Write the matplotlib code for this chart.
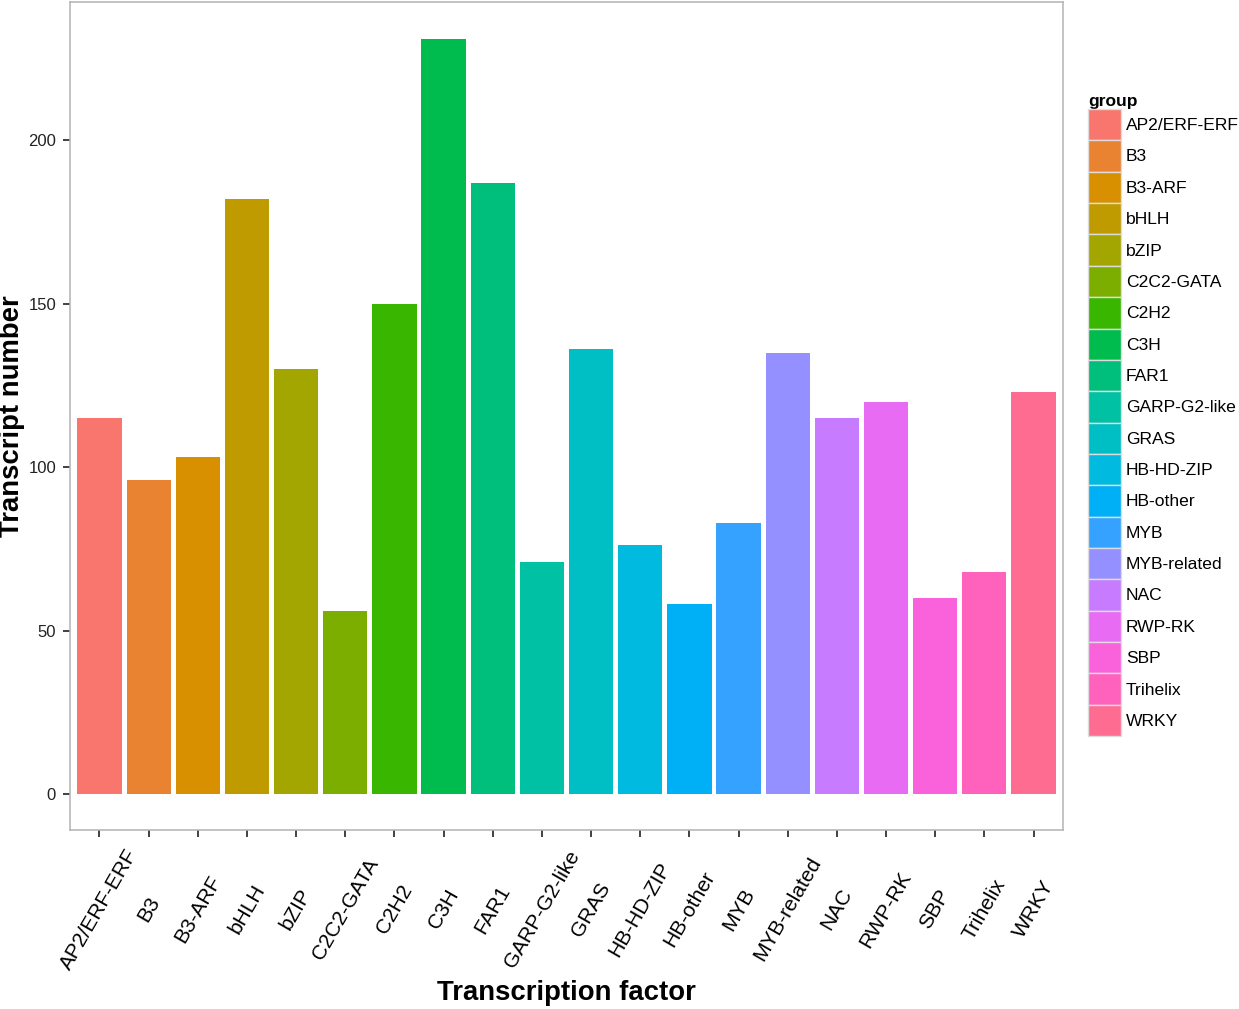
import matplotlib.pyplot as plt
from matplotlib.patches import Patch

# transcription factor families and counts
factors = ["AP2/ERF-ERF", "B3", "B3-ARF", "bHLH", "bZIP", "C2C2-GATA", "C2H2",
           "C3H", "FAR1", "GARP-G2-like", "GRAS", "HB-HD-ZIP", "HB-other", "MYB",
           "MYB-related", "NAC", "RWP-RK", "SBP", "Trihelix", "WRKY"]
counts = [115, 96, 103, 182, 130, 56, 150, 231, 187, 71,
          136, 76, 58, 83, 135, 115, 120, 60, 68, 123]
y_ticks = [0, 50, 100, 150, 200]

# ggplot default hue palette for 20 levels
colors = ["#F8766D", "#EA8331", "#D89000", "#C09B00", "#A3A500", "#7CAE00",
          "#39B600", "#00BB4E", "#00BF7D", "#00C1A3", "#00BFC4", "#00BAE0",
          "#00B0F6", "#35A2FF", "#9590FF", "#C77CFF", "#E76BF3", "#FA62DB",
          "#FF62BC", "#FF6C91"]

plt.rcParams['font.family'] = ['Liberation Sans', 'DejaVu Sans']

fig = plt.figure(figsize=(12.39, 10.09), dpi=100)
ax = fig.add_axes([70 / 1239, 1 - 830 / 1009, 993 / 1239, 828 / 1009])

x = list(range(1, len(factors) + 1))
ax.bar(x, counts, width=0.9, color=colors, edgecolor="none")

ax.set_xlim(0.4, len(factors) + 0.6)
ax.set_ylim(-11, 242.2)

ax.set_yticks(y_ticks)
ax.set_xticks(x)
ax.set_xticklabels(factors, rotation=60, ha="center", va="center",
                   rotation_mode="anchor", fontsize=15, color="black")
ax.tick_params(axis="x", length=5, width=1.3, color="#333333", pad=52)
ax.tick_params(axis="y", length=5, width=1.3, color="#333333", pad=5,
               labelsize=12, labelcolor="#222222")

for s in ax.spines.values():
    s.set_color("#B3B3B3")
    s.set_linewidth(1.1)

ax.set_xlabel("Transcription factor", fontsize=19.8, fontweight="bold")
ax.set_ylabel("Transcript number", fontsize=19.8, fontweight="bold")
ax.xaxis.set_label_coords(0.5, -0.181)
ax.yaxis.set_label_coords(-0.045, 0.5)

handles = [Patch(facecolor=c, edgecolor="#DDDDDD", linewidth=1) for c in colors]
leg = fig.legend(handles, factors, title="group", loc="upper left",
                 bbox_to_anchor=(1088 / 1239, 1 - 94 / 1009), frameon=False,
                 fontsize=12.6, handlelength=1.86, handleheight=2.38,
                 labelspacing=0, handletextpad=0.3, borderpad=0,
                 borderaxespad=0, alignment="left")
leg.get_title().set_fontweight("bold")
leg.get_title().set_fontsize(12.5)

fig.savefig("out.png", dpi=100)
